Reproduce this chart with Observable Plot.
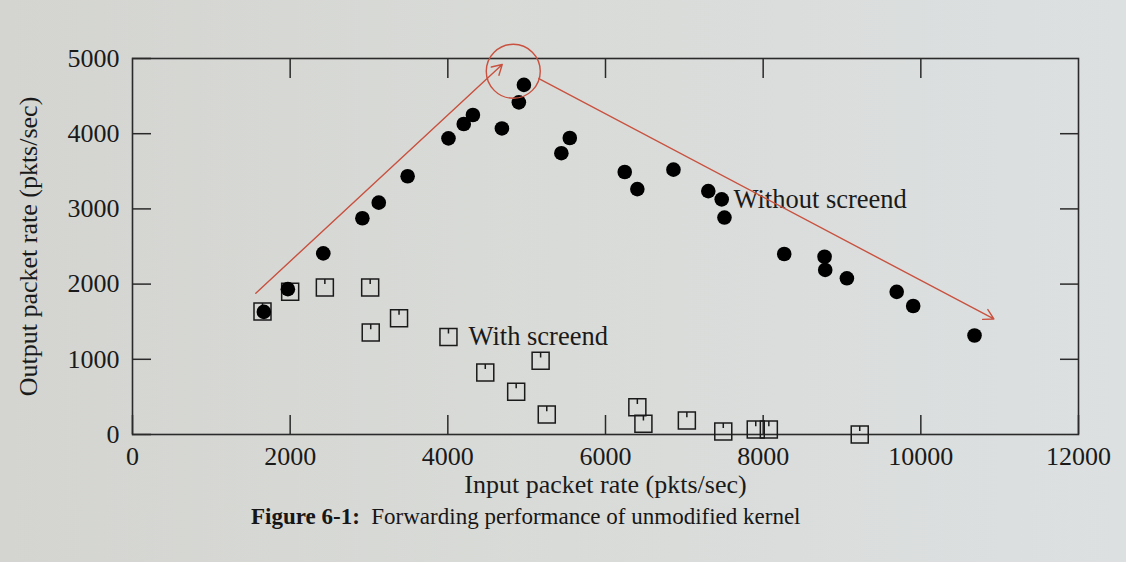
<!DOCTYPE html>
<html>
<head>
<meta charset="utf-8">
<script src="https://cdn.jsdelivr.net/npm/d3@7"></script>
<script src="https://cdn.jsdelivr.net/npm/@observablehq/plot@0.6"></script>
<style>
  html, body { margin: 0; padding: 0; }
  body {
    width: 1126px; height: 562px; overflow: hidden;
    background: linear-gradient(to right, #d4d5d1 0%, #d9dbd8 50%, #dce0e1 100%);
    font-family: "Liberation Serif", "DejaVu Serif", serif;
    color: #161616;
  }
  #chart svg { display: block; }
  .cap { margin-top: 5px; height: 24px; line-height: 24px; padding-left: 251px; font-size: 23px; white-space: pre; }
</style>
</head>
<body>
<div id="chart"></div>
<div class="cap"><b>Figure 6-1:</b>  Forwarding performance of unmodified kernel</div>
<script>
// ---- tick values ----
const xTicks = [0, 2000, 4000, 6000, 8000, 10000, 12000];
const xInnerTicks = [2000, 4000, 6000, 8000, 10000];
const yTicks = [0, 1000, 2000, 3000, 4000, 5000];
const yInnerTicks = [1000, 2000, 3000, 4000];

// ---- "Without screend" (filled circles) ----
const withoutX = [1666, 1971, 2420, 2916, 3124, 3490, 4008, 4202, 4318, 4686, 4901, 4965,
                  5440, 5547, 6244, 6404, 6862, 7304, 7474, 7509, 8267, 8779, 8787, 9062,
                  9694, 9903, 10681];
const withoutY = [1630, 1933, 2409, 2876, 3083, 3434, 3938, 4129, 4249, 4070, 4417, 4649,
                  3741, 3943, 3491, 3263, 3522, 3237, 3127, 2885, 2400, 2364, 2188, 2077,
                  1897, 1709, 1316];

// ---- "With screend" (open squares) ----
const withX = [1649, 2000, 2440, 3015, 3022, 3381, 4475, 5177, 4867, 5255, 6404, 6481,
               7032, 7494, 7906, 8072, 9225];
const withY = [1634, 1897, 1956, 1956, 1355, 1546, 825, 980, 570, 265, 362, 142,
               185, 40, 66, 66, 0];

// ---- series labels ----
const labelText = ["Without screend", "With screend"];
const labelX = [7624, 4262];
const labelY = [3120, 1300];
const keyX = [4008];
const keyY = [1298];

// ---- axis titles ----
const xTitle = "Input packet rate (pkts/sec)";
const yTitle = "Output packet rate (pkts/sec)";

// ---- hand-drawn red annotation (data units) ----
const arrowFrom = [{x: 1564, y: 1879}, {x: 5155, y: 4733}];
const arrowTo   = [{x: 4690, y: 4920}, {x: 10926, y: 1536}];
const ringCenter = [{x: 4830, y: 4830}];

const withoutData = withoutX.map((x, i) => ({x, y: withoutY[i]}));
const withData = withX.map((x, i) => ({x, y: withY[i]}));
const labelData = labelText.map((t, i) => ({label: t, x: labelX[i], y: labelY[i]}));
const keyData = keyX.map((x, i) => ({x, y: keyY[i]}));
const arrowData = arrowFrom.map((a, i) => ({x1: a.x, y1: a.y, x2: arrowTo[i].x, y2: arrowTo[i].y}));

// square with a small tick at the top (as in the original plot symbol)
const squareTick = {
  draw(ctx, size) {
    const s = Math.sqrt(size / Math.PI);
    ctx.moveTo(-s, -s); ctx.lineTo(s, -s); ctx.lineTo(s, s); ctx.lineTo(-s, s); ctx.closePath();
    ctx.moveTo(0, -s); ctx.lineTo(0, -s * 0.4);
  }
};

const ink = "#1a1a1a";
const red = "#c9513f";

const chart = Plot.plot({
  width: 1126,
  height: 500,
  marginTop: 58,
  marginRight: 48,
  marginBottom: 66,
  marginLeft: 132,
  x: {domain: [0, 12000]},
  y: {domain: [0, 5000]},
  style: {fontFamily: '"Liberation Serif", "DejaVu Serif", serif', fontSize: "26px", color: ink, background: "transparent", overflow: "visible"},
  marks: [
    Plot.frame({stroke: "#2a2a2a", strokeWidth: 1.6}),
    Plot.axisX(xTicks, {anchor: "bottom", tickSize: -19, tickPadding: 31, tickFormat: d3.format("d"), stroke: "#2a2a2a", strokeWidth: 1.5, fontSize: 26, label: null}),
    Plot.axisX(xInnerTicks, {anchor: "top", tickSize: -19, tickFormat: () => "", stroke: "#2a2a2a", strokeWidth: 1.5, label: null}),
    Plot.axisY(yTicks, {anchor: "left", tickSize: -19, tickPadding: 32, tickFormat: d3.format("d"), stroke: "#2a2a2a", strokeWidth: 1.5, fontSize: 26, label: null}),
    Plot.axisY(yInnerTicks, {anchor: "right", tickSize: -19, tickFormat: () => "", stroke: "#2a2a2a", strokeWidth: 1.5, label: null}),
    Plot.text([yTitle], {frameAnchor: "left", dx: -104, rotate: -90, textAnchor: "middle", lineAnchor: "middle", text: d => d, fontSize: 26, fill: ink}),
    Plot.text([xTitle], {frameAnchor: "bottom", dy: 50, textAnchor: "middle", lineAnchor: "middle", text: d => d, fontSize: 26, fill: ink}),
    Plot.dot(withData, {x: "x", y: "y", r: 8.5, symbol: squareTick, fill: "none", stroke: ink, strokeWidth: 1.5}),
    Plot.dot(keyData, {x: "x", y: "y", r: 8.5, symbol: squareTick, fill: "none", stroke: ink, strokeWidth: 1.5}),
    Plot.dot(withoutData, {x: "x", y: "y", r: 7.3, fill: "#000", stroke: "none"}),
    Plot.text(labelData, {x: "x", y: "y", text: "label", textAnchor: "start", fontSize: 26.5, fill: ink}),
    Plot.arrow(arrowData, {x1: "x1", y1: "y1", x2: "x2", y2: "y2", stroke: red, strokeWidth: 1.4, headLength: 12}),
    Plot.dot(ringCenter, {x: "x", y: "y", r: 27, fill: "none", stroke: red, strokeWidth: 1.4})
  ]
});
document.getElementById("chart").appendChild(chart);
</script>
</body>
</html>
